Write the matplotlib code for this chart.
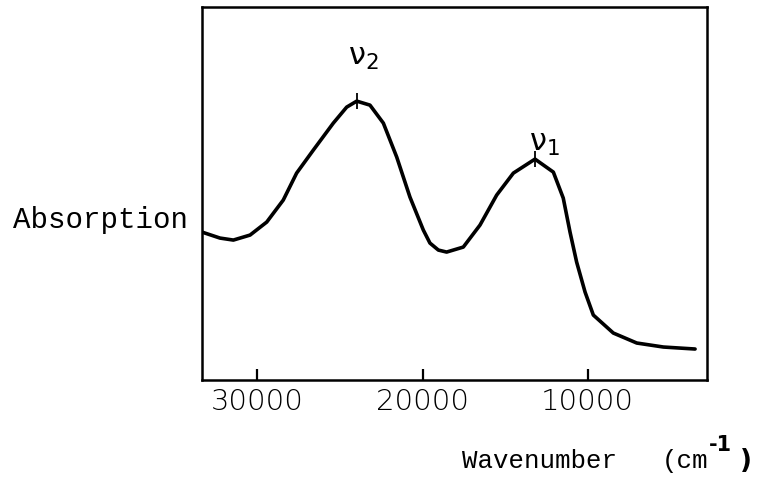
import matplotlib
matplotlib.use("Agg")
import matplotlib.pyplot as plt

# absorption spectrum (arbitrary units)
wavenumber = [33350, 32260, 31450, 30440, 29430, 28430, 27620, 26610, 25400,
              24590, 23980, 23180, 22370, 21560, 20760, 19950, 19550, 19040,
              18540, 17530, 16520, 15510, 14500, 13190, 12080, 11480, 11070,
              10670, 10160, 9660, 8450, 7030, 5420, 3500]
absorption = [1.48, 1.42, 1.40, 1.45, 1.58, 1.80, 2.07, 2.30, 2.57,
              2.73, 2.79, 2.75, 2.57, 2.23, 1.83, 1.50, 1.37, 1.30,
              1.28, 1.33, 1.55, 1.85, 2.07, 2.21, 2.08, 1.82, 1.48,
              1.18, 0.88, 0.65, 0.47, 0.37, 0.33, 0.31]

peak_names = [r"$\mathregular{\nu_2}$", r"$\mathregular{\nu_1}$"]
peak_pos = [23980, 13190]
peak_val = [2.79, 2.21]
label_offsets = [(5, 21), (7, 1)]

xticks = [30000, 20000, 10000]
xtick_labels = ["30000", "20000", "10000"]

fig = plt.figure(figsize=(7.61, 4.78), dpi=100)
ax = fig.add_axes([0.2654, 0.205, 0.6636, 0.780])

ax.plot(wavenumber, absorption, color="black", lw=2.6,
        solid_joinstyle="round", solid_capstyle="round")
ax.plot(peak_pos, peak_val, ls="none", marker="|", ms=11, mew=1.3, color="black")

for name, x, y, off in zip(peak_names, peak_pos, peak_val, label_offsets):
    ax.annotate(name, (x, y), xytext=off, textcoords="offset points",
                ha="center", va="bottom", fontsize=22)

ax.set_xlim(33350, 2780)
ax.set_ylim(0, 3.73)
ax.set_xticks(xticks)
ax.set_xticklabels(xtick_labels, family="DejaVu Sans", fontweight="light", fontsize=21)
ax.set_yticks([])
ax.tick_params(axis="x", direction="in", length=8, width=1.6, pad=6)
for side in ax.spines.values():
    side.set_linewidth(1.8)

fig.text(0.017, 0.54, "Absorption", family="Liberation Mono", fontsize=21,
         ha="left", va="center")
fig.text(0.607, 0.021, "Wavenumber", family="Liberation Mono", fontsize=18.5,
         ha="left", va="baseline")
fig.text(0.870, 0.021, "(cm", family="Liberation Mono", fontsize=18.5,
         ha="left", va="baseline")
fig.text(0.932, 0.056, "-1", family="DejaVu Sans", fontweight="bold", fontsize=15,
         ha="left", va="baseline")
fig.text(0.972, 0.021, ")", family="DejaVu Sans", fontsize=19, fontweight="bold",
         ha="left", va="baseline")

fig.savefig("out.png", dpi=100)
